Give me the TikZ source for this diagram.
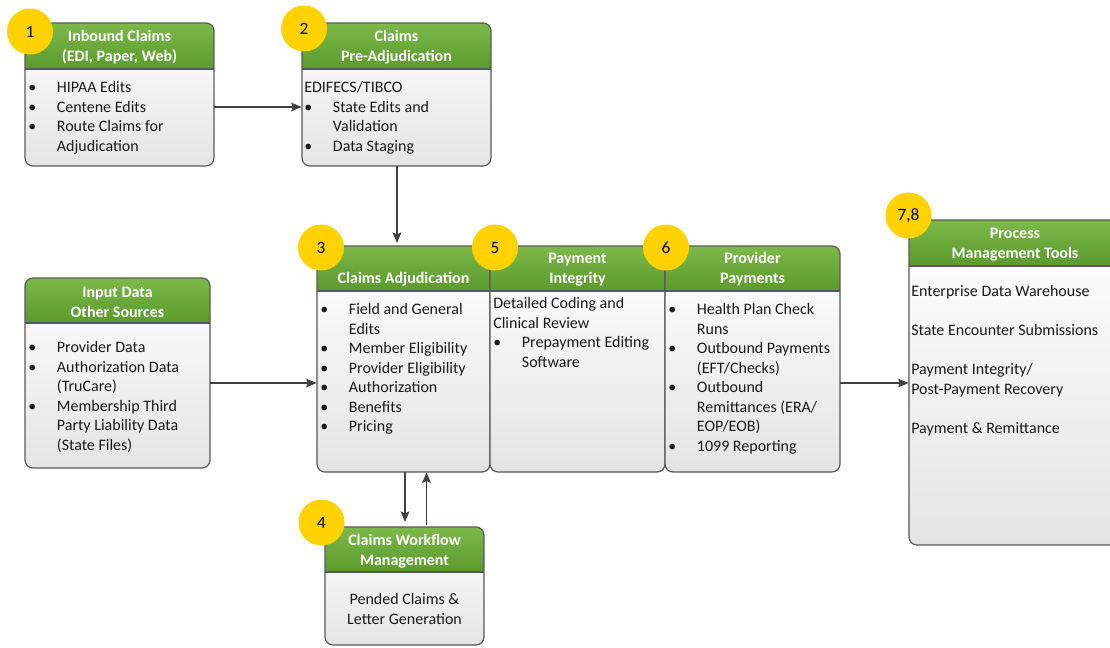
\documentclass[tikz,border=0pt]{standalone}
\usepackage{fontspec}
\setmainfont{Carlito}
\usetikzlibrary{arrows.meta,fit}

\definecolor{headtop}{HTML}{7DB84A}
\definecolor{headbot}{HTML}{5B9A2E}
\definecolor{bodytop}{HTML}{FFFFFF}
\definecolor{bodybot}{HTML}{E4E4E4}
\definecolor{framecol}{HTML}{595959}
\definecolor{arrowcol}{HTML}{404040}
\definecolor{dotcol}{HTML}{FFD200}
\definecolor{inkcol}{HTML}{1A1A1A}

\newcommand\bodyfont{\fontsize{12pt}{14.625pt}\selectfont}
\newcommand\headfont{\fontsize{12pt}{14.625pt}\selectfont\bfseries}
\newcommand\bu{\makebox[21.5pt][l]{\textbullet}}

\tikzset{
  frame/.style={draw=framecol, line width=0.9pt},
  bodyshade/.style={top color=bodytop, bottom color=bodybot},
  headshade/.style={top color=headtop, bottom color=headbot},
  numdot/.style={circle, fill=dotcol, minimum size=34.5pt, inner sep=0pt,
    font=\fontsize{13pt}{15pt}\selectfont, text=black},
  headtext/.style={anchor=north, inner sep=0pt, text=white, font=\headfont},
  bodytext/.style={anchor=north west, inner sep=0pt, text=inkcol, font=\bodyfont},
  centertext/.style={anchor=north, inner sep=0pt, text=inkcol, font=\bodyfont},
  arr/.style={draw=arrowcol, line width=1.1pt,
    -{Stealth[length=8pt,width=6.5pt,inset=1.5pt]}}
}

% process box: name, left, top, right, bottom, header bottom
\newcommand\procbox[6]{%
  \coordinate (#1-nw) at (#2,#3);
  \coordinate (#1-se) at (#4,#5);
  \node[fit=(#1-nw)(#1-se), inner sep=0pt] (#1) {};
  \shade[bodyshade, rounded corners=6pt] (#1-nw) rectangle (#1-se);
  \begin{scope}
    \clip[rounded corners=6pt] (#1-nw) rectangle (#1-se);
    \shade[headshade] (#1-nw) rectangle (#4,#6);
  \end{scope}
  \draw[frame] (#2,#6) -- (#4,#6);
  \draw[frame, rounded corners=6pt] (#1-nw) rectangle (#1-se);
}

\begin{document}
\begin{tikzpicture}[x=0.75pt, y=-0.75pt]
\useasboundingbox (0,0) rectangle (1110,647);

% boxes
\procbox{b1}{25}{23}{214}{166}{69}
\procbox{b2}{302}{23}{491}{166}{69}
\procbox{b3}{317}{246}{490}{472}{291}
\procbox{b5}{490}{246}{665}{472}{291}
\procbox{b6}{665}{246}{840}{472}{291}
\procbox{in}{25}{278}{210}{468}{323}
\procbox{b7}{909}{220}{1121}{545}{266}
\procbox{b4}{325}{527}{484}{645}{572}

% headers
\node[headtext] (b1-h) at (119.5,27.6) {\begin{tabular}{@{}c@{}}Inbound Claims\\(EDI, Paper, Web)\end{tabular}};
\node[headtext] (b2-h) at (396.5,27.6) {\begin{tabular}{@{}c@{}}Claims\\Pre-Adjudication\end{tabular}};
\node[headtext] (b3-h) at (403.5,269.6) {\begin{tabular}{@{}c@{}}Claims Adjudication\end{tabular}};
\node[headtext] (b5-h) at (577.5,249.6) {\begin{tabular}{@{}c@{}}Payment\\Integrity\end{tabular}};
\node[headtext] (b6-h) at (752.5,249.6) {\begin{tabular}{@{}c@{}}Provider\\Payments\end{tabular}};
\node[headtext] (in-h) at (117.5,283.6) {\begin{tabular}{@{}c@{}}Input Data\\Other Sources\end{tabular}};
\node[headtext] (b7-h) at (1015,224.6) {\begin{tabular}{@{}c@{}}Process\\Management Tools\end{tabular}};
\node[headtext] (b4-h) at (404.5,531.6) {\begin{tabular}{@{}c@{}}Claims Workflow\\Management\end{tabular}};

% body texts
\node[bodytext] (b1-t) at (28,78.6) {\begin{tabular}{@{}l@{}l@{}}
\bu & HIPAA Edits\\
\bu & Centene Edits\\
\bu & Route Claims for\\
    & Adjudication
\end{tabular}};
\node[bodytext] (b2-t) at (304,78.6) {\begin{tabular}{@{}l@{}l@{}}
\multicolumn{2}{@{}l@{}}{EDIFECS/TIBCO}\\
\bu & State Edits and\\
    & Validation\\
\bu & Data Staging
\end{tabular}};
\node[bodytext] (b3-t) at (320,300.6) {\begin{tabular}{@{}l@{}l@{}}
\bu & Field and General\\
    & Edits\\
\bu & Member Eligibility\\
\bu & Provider Eligibility\\
\bu & Authorization\\
\bu & Benefits\\
\bu & Pricing
\end{tabular}};
\node[bodytext] (b5-t) at (493,294.6) {\begin{tabular}{@{}l@{}l@{}}
\multicolumn{2}{@{}l@{}}{Detailed Coding and}\\
\multicolumn{2}{@{}l@{}}{Clinical Review}\\
\bu & Prepayment Editing\\
    & Software
\end{tabular}};
\node[bodytext] (b6-t) at (668,300.6) {\begin{tabular}{@{}l@{}l@{}}
\bu & Health Plan Check\\
    & Runs\\
\bu & Outbound Payments\\
    & (EFT/Checks)\\
\bu & Outbound\\
    & Remittances (ERA/\\
    & EOP/EOB)\\
\bu & 1099 Reporting
\end{tabular}};
\node[bodytext] (in-t) at (28,338.6) {\begin{tabular}{@{}l@{}l@{}}
\bu & Provider Data\\
\bu & Authorization Data\\
    & (TruCare)\\
\bu & Membership Third\\
    & Party Liability Data\\
    & (State Files)
\end{tabular}};
\node[bodytext] (b7-t) at (911,282.6) {\begin{tabular}{@{}l@{}}
Enterprise Data Warehouse\\
\\
State Encounter Submissions\\
\\
Payment Integrity/\\
Post-Payment Recovery\\
\\
Payment \& Remittance
\end{tabular}};
\node[centertext] (b4-t) at (404.5,591) {\begin{tabular}{@{}c@{}}
Pended Claims \&\\
Letter Generation
\end{tabular}};

% connectors
\draw[arr] (b1.east |- 0,107) -- (b2.west |- 0,107);
\draw[arr, shorten >=2pt] (b2.south -| 397,0) -- (b3.north -| 397,0);
\draw[arr] (in.east |- 0,383) -- (b3.west |- 0,383);
\draw[arr] (b6.east |- 0,383) -- (b7.west |- 0,383);
\draw[arr, shorten >=3.5pt] (b3.south -| 405,0) -- (b4.north -| 405,0);
\draw[arr, shorten <=1.5pt] (b4.north -| 426.5,0) -- (b3.south -| 426.5,0);

% step numbers
\node[numdot] (n1) at (30,31.5) {1};
\node[numdot] (n2) at (304,28.5) {2};
\node[numdot] (n3) at (321,247.5) {3};
\node[numdot] (n5) at (495,247.5) {5};
\node[numdot] (n6) at (666,247.5) {6};
\node[numdot] (n78) at (908.5,215.5) {7,8};
\node[numdot] (n4) at (321.5,522.5) {4};
\end{tikzpicture}
\end{document}
